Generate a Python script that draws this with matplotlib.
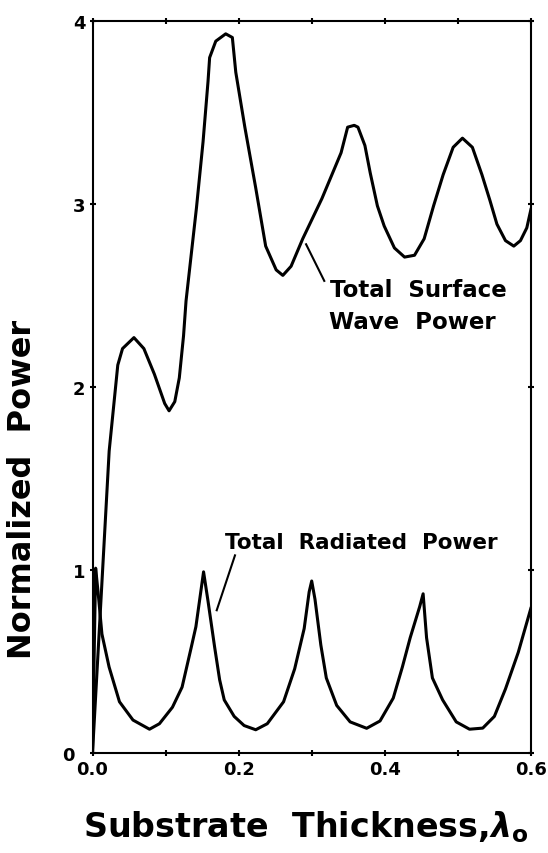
import matplotlib.pyplot as plt
import matplotlib.transforms as mtransforms
from matplotlib.ticker import MultipleLocator

# curves (x in wavelengths, y normalized power)
surf_x = [0.0, 0.0115, 0.0228, 0.0346, 0.0411, 0.0567, 0.0703, 0.0847, 0.0988, 0.1048,
          0.1126, 0.1188, 0.1246, 0.128, 0.1423, 0.1513, 0.1581, 0.1603, 0.1687, 0.1823,
          0.1914, 0.1961, 0.2085, 0.2233, 0.2370, 0.2514, 0.2605, 0.2718, 0.2877, 0.3140,
          0.3402, 0.3492, 0.3582, 0.3633, 0.3728, 0.3801, 0.3899, 0.3992, 0.4132, 0.4271,
          0.4407, 0.4539, 0.4668, 0.4799, 0.4936, 0.5063, 0.5199, 0.5330, 0.5439, 0.5535,
          0.5652, 0.5766, 0.5857, 0.5944, 0.6]
surf_y = [0.0, 0.83, 1.65, 2.12, 2.21, 2.27, 2.21, 2.07, 1.91, 1.87,
          1.92, 2.05, 2.28, 2.47, 2.98, 3.34, 3.67, 3.80, 3.89, 3.93,
          3.91, 3.72, 3.42, 3.09, 2.77, 2.64, 2.61, 2.66, 2.81, 3.03,
          3.28, 3.42, 3.43, 3.42, 3.32, 3.17, 2.99, 2.88, 2.76, 2.71,
          2.72, 2.81, 2.99, 3.16, 3.31, 3.36, 3.31, 3.16, 3.02, 2.89,
          2.80, 2.77, 2.80, 2.87, 2.97]

rad_x = [0.0, 0.0043, 0.0076, 0.0129, 0.0227, 0.0369, 0.0554, 0.0780, 0.0916, 0.1094,
         0.1226, 0.1353, 0.1415, 0.1520, 0.1581, 0.1671, 0.1740, 0.1803, 0.1939, 0.2075,
         0.2234, 0.2392, 0.2615, 0.2767, 0.2897, 0.2965, 0.3000, 0.3045, 0.3125, 0.3200,
         0.3342, 0.3526, 0.3752, 0.3935, 0.4116, 0.4241, 0.4348, 0.4478, 0.4525, 0.4572,
         0.4652, 0.4792, 0.4978, 0.5160, 0.5341, 0.5500, 0.5652, 0.5827, 0.5999]
rad_y = [0.0, 1.01, 0.88, 0.65, 0.47, 0.28, 0.18, 0.13, 0.16, 0.25,
         0.36, 0.58, 0.69, 0.99, 0.83, 0.58, 0.40, 0.29, 0.20, 0.15,
         0.127, 0.16, 0.28, 0.46, 0.68, 0.88, 0.94, 0.84, 0.59, 0.41,
         0.26, 0.17, 0.135, 0.175, 0.30, 0.47, 0.63, 0.80, 0.87, 0.63,
         0.41, 0.29, 0.17, 0.13, 0.136, 0.20, 0.35, 0.55, 0.79]

plt.rcParams['font.family'] = 'DejaVu Sans'
plt.rcParams['font.weight'] = 'bold'
plt.rcParams['axes.labelweight'] = 'bold'

fig = plt.figure(figsize=(5.48, 8.54), dpi=100)
ax = fig.add_axes([0.1688, 0.1171, 0.800, 0.8571])

ax.plot(surf_x, surf_y, color='black', lw=2.2, solid_joinstyle='round')
ax.plot(rad_x, rad_y, color='black', lw=2.2, solid_joinstyle='round')

ax.set_xlim(0, 0.6)
ax.set_ylim(0, 4)
ax.xaxis.set_major_locator(MultipleLocator(0.2))
ax.xaxis.set_minor_locator(MultipleLocator(0.1))
ax.yaxis.set_major_locator(MultipleLocator(1))
ax.xaxis.set_major_formatter(plt.FuncFormatter(lambda v, p: f"{v:.1f}"))
ax.tick_params(which='both', direction='inout', length=5, width=1.5,
               top=True, right=True, labelsize=13, pad=2.5)
for sp in ax.spines.values():
    sp.set_linewidth(1.5)

# labels on the curves
ax.text(0.325, 2.50, "Total  Surface", fontsize=16.5, ha='left', va='baseline')
ax.text(0.324, 2.32, "Wave  Power", fontsize=16.5, ha='left', va='baseline')
ax.plot([0.2923, 0.3172], [2.78, 2.58], color='black', lw=1.5)

ax.text(0.181, 1.12, "Total  Radiated  Power", fontsize=15.5, ha='left', va='baseline')
ax.plot([0.195, 0.170], [1.08, 0.78], color='black', lw=1.5)

ax.set_xlabel(r"Substrate  Thickness,$\lambda_\mathrm{o}$", fontsize=24)
ax.xaxis.label.set_va('baseline')
ax.xaxis.set_label_coords(0.485, -0.1134)
ax.set_ylabel("Normalized  Power", fontsize=23)
ax.yaxis.label.set_va('center')
ax.yaxis.set_label_coords(-0.1597, 0.362)

# the "0" on the y axis sits further left in the original
fig.canvas.draw()
for tick in ax.yaxis.get_major_ticks():
    if tick.get_loc() == 0:
        lbl = tick.label1
        lbl.set_transform(lbl.get_transform() +
                          mtransforms.ScaledTranslation(-8 / 72, 0, fig.dpi_scale_trans))

plt.savefig('out.png', dpi=100)
